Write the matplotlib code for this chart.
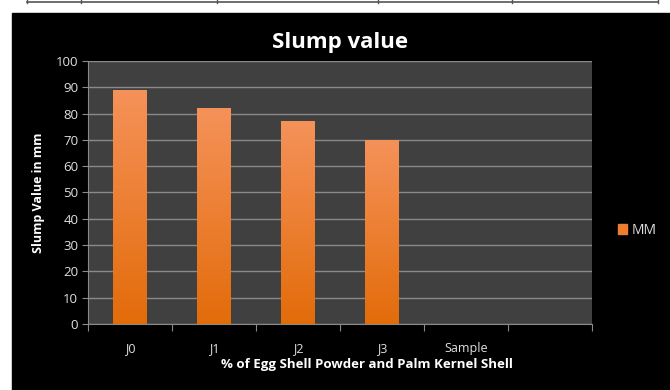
import numpy as np
import matplotlib
matplotlib.use("Agg")
import matplotlib.pyplot as plt
from matplotlib.colors import LinearSegmentedColormap
from matplotlib.patches import Rectangle

plt.rcParams['font.family'] = ['Open Sans', 'DejaVu Sans']

# data
categories = ['J0', 'J1', 'J2', 'J3', 'Sample', '']
slump_mm = [89, 82, 77, 70, 0, 0]
series_name = 'MM'
y_ticks = list(range(0, 101, 10))

W, H = 670, 390
fig = plt.figure(figsize=(W / 100, H / 100), dpi=100, facecolor='white')

# leftover table border from the document page
fig.add_artist(plt.Line2D([27 / W, 658 / W], [1 - 1.5 / H, 1 - 1.5 / H],
                          color='#555555', lw=1.2))
for xv in [27, 81, 217, 378, 512, 658]:
    fig.add_artist(plt.Line2D([xv / W, xv / W], [1, 1 - 3 / H], color='#555555', lw=1))

# black chart area
fig.add_artist(Rectangle((12 / W, 0), 1 - 12 / W, 1 - 13 / H,
                         transform=fig.transFigure, color='black', zorder=0))

ax = fig.add_axes([88 / W, (H - 324) / H, (592 - 88) / W, (324 - 61) / H])
ax.set_facecolor('#404040')
x = np.arange(len(categories))
ax.set_xlim(-0.5, len(categories) - 0.5)
ax.set_ylim(0, 100)

cmap = LinearSegmentedColormap.from_list('bar', ['#E36C0A', '#F5925A'])
grad = np.linspace(0, 1, 256).reshape(-1, 1)
bars = ax.bar(x, slump_mm, width=0.4, color='#ED7D31', zorder=2, label=series_name)
for b in bars:
    h = b.get_height()
    if h <= 0:
        continue
    x0 = b.get_x()
    im = ax.imshow(grad, cmap=cmap, aspect='auto', origin='lower',
                   extent=[x0, x0 + b.get_width(), 0, h], zorder=3)
    im.set_clip_path(b)

ax.set_yticks(y_ticks)
ax.yaxis.grid(True, color='#8a8a8a', lw=1)
ax.set_axisbelow(True)
ax.set_xticks(np.arange(len(categories) + 1) - 0.5, minor=False)
ax.set_xticklabels([])
ax.set_xticks(x, minor=True)
ax.set_xticklabels(categories, minor=True)
ax.tick_params(axis='x', which='major', length=5, color='#8a8a8a', direction='out')
ax.tick_params(axis='x', which='minor', length=0, pad=13, labelcolor='#e0e0e0', labelsize=9)
ax.tick_params(axis='y', length=4, color='#8a8a8a', labelcolor='#e0e0e0', labelsize=9.5, pad=3)
for s in ['top', 'right']:
    ax.spines[s].set_visible(False)
ax.spines['left'].set_color('#8a8a8a')
ax.spines['bottom'].set_color('#8a8a8a')

ax.set_title('Slump value', color='white', fontsize=16, fontweight='bold', pad=9)
ax.set_xlabel('% of Egg Shell Powder and Palm Kernel Shell', color='white',
              fontsize=9.5, fontweight='bold')
ax.xaxis.set_label_coords((367 - 88) / 504, -0.13)
ax.set_ylabel('Slump Value in mm', color='white', fontsize=9, fontweight='bold', labelpad=8)

leg = fig.legend(handles=[Rectangle((0, 0), 1, 1, color='#ED7D31')], labels=[series_name],
                 loc='center left', bbox_to_anchor=(605 / W, 1 - 230 / H), frameon=False,
                 handlelength=0.7, handleheight=0.7, handletextpad=0.3, fontsize=10)
for t in leg.get_texts():
    t.set_color('#e0e0e0')

fig.savefig('out.png', dpi=100, facecolor='white')
